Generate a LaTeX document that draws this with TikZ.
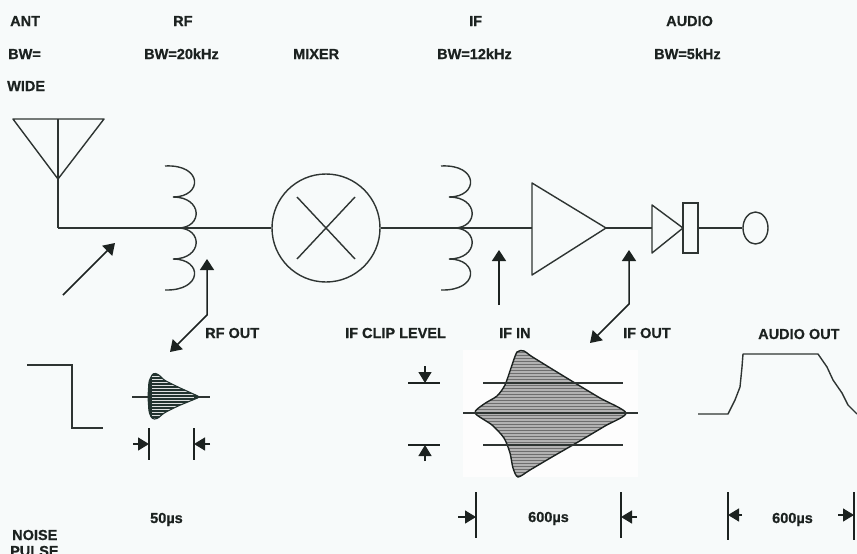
\documentclass[tikz,border=0pt]{standalone}
\usepackage{fontspec}
\setmainfont{Liberation Sans}
\newfontfamily\lblfont{Liberation Sans Bold}[FakeBold=0.6]
\usetikzlibrary{arrows.meta,shapes.geometric}
\definecolor{bg}{HTML}{F7FAFA}
\definecolor{ink}{HTML}{2E3432}
\definecolor{tx}{HTML}{1C2220}
\definecolor{dk}{HTML}{22332F}
\definecolor{gfill}{HTML}{B2B2B2}
\definecolor{ghatch}{HTML}{6E6E6E}
\begin{document}
\begin{tikzpicture}[x=1pt,y=-1pt,
  wire/.style={draw=ink,line width=1.4pt},
  ptr/.style={draw=tx,line width=1.5pt,-{Triangle[length=11pt,width=14pt]}},
  dimtip/.style={draw=tx,line width=1.3pt,-{Triangle[length=11pt,width=13pt]}},
  dimline/.style={draw=tx,line width=1.5pt},
  lbl/.style={font=\lblfont\fontsize{14.5}{16}\selectfont,text=tx,inner sep=0pt,anchor=base west}]
\fill[bg] (0,0) rectangle (857,554);
\useasboundingbox (0,0) rectangle (857,554);

% ---------- top labels ----------
\node[lbl] (ant)   at (10,26)  {ANT};
\node[lbl] (rf)    at (173,26) {RF};
\node[lbl] (if)    at (469,26) {IF};
\node[lbl] (aud)   at (666,26) {AUDIO};
\node[lbl] (bw0)   at (8,59)   {BW=};
\node[lbl] (bw1)   at (144,59) {BW=20kHz};
\node[lbl] (mixl)  at (293,59) {MIXER};
\node[lbl] (bw2)   at (437,59) {BW=12kHz};
\node[lbl] (bw3)   at (654,59) {BW=5kHz};
\node[lbl] (wide)  at (7,91)   {WIDE};

% ---------- antenna ----------
\coordinate (antL) at (13,119);
\coordinate (antR) at (104,119);
\coordinate (antTop) at (58,119);
\coordinate (antApex) at (58,179);
\coordinate (antFoot) at (58,228);
\draw[wire,line join=round] (antL) -- (antR) -- (antApex) -- cycle;
\draw[wire] (antTop) -- (antFoot);

% ---------- coils ----------
\coordinate (rfJ) at (178,228);
\coordinate (ifJ) at (454,228);
\foreach \dx in {0,276}{
  \begin{scope}[xshift=\dx]
  \draw[wire] (165,166) .. controls (203,164) and (203,197) .. (173,197)
     .. controls (203,197) and (203,228) .. (178,228)
     .. controls (203,228) and (203,259) .. (173,259)
     .. controls (203,259) and (203,291) .. (165,290);
  \end{scope}
}

% ---------- mixer ----------
\node[circle,draw=ink,line width=1.4pt,minimum size=108pt,inner sep=0pt] (mix) at (326,228) {};
\draw[wire] ([shift={(-29,-31)}]mix.center) -- ([shift={(29,31)}]mix.center);
\draw[wire] ([shift={(29,-31)}]mix.center) -- ([shift={(-29,31)}]mix.center);

% ---------- amplifier, detector, output ----------
\coordinate (ampIn) at (532,228);
\coordinate (ampT) at (532,183);
\coordinate (ampB) at (532,275);
\coordinate (ampOut) at (606,228);
\draw[wire,line join=round] (ampT) -- (ampOut) -- (ampB) -- cycle;
\coordinate (dIn) at (652,228);
\coordinate (dT) at (652,205);
\coordinate (dB) at (652,253);
\coordinate (dOut) at (683,228);
\draw[wire,line join=round] (dT) -- (dOut) -- (dB) -- cycle;
\node[rectangle,draw=ink,line width=1.4pt,minimum width=15pt,minimum height=50pt,inner sep=0pt] (bar) at (690.5,228) {};
\node[ellipse,draw=ink,line width=1.4pt,minimum width=25pt,minimum height=32pt,inner sep=0pt] (spk) at (755.5,228) {};

% ---------- wires ----------
\draw[wire] (antFoot) -- (rfJ) -- (mix.west);
\draw[wire] (mix.east) -- (ifJ) -- (ampIn);
\draw[wire] (ampOut) -- (dIn);
\draw[wire] (bar.east) -- (spk.west);

% ---------- pointer arrows ----------
\coordinate (inA) at (63,295);
\coordinate (inB) at (115,243);
\draw[ptr] (inA) -- (inB);

\coordinate (rfoTip) at (207,259);
\coordinate (rfoK) at (207,315);
\coordinate (rfoEnd) at (170,352);
\draw[draw=tx,line width=1.5pt,{Triangle[length=11pt,width=14pt]}-{Triangle[length=11pt,width=14pt]}] (rfoEnd) -- (rfoK) -- (rfoTip);

\coordinate (ifiA) at (499,305);
\coordinate (ifiB) at (499,250);
\draw[ptr] (ifiA) -- (ifiB);

\coordinate (ifoTip) at (629,250);
\coordinate (ifoK) at (629,304);
\coordinate (ifoEnd) at (590,343);
\draw[draw=tx,line width=1.5pt,{Triangle[length=11pt,width=14pt]}-{Triangle[length=11pt,width=14pt]}] (ifoEnd) -- (ifoK) -- (ifoTip);

% ---------- lower labels ----------
\node[lbl] (rfout) at (205,338) {RF OUT};
\node[lbl] (clip)  at (345,338) {IF CLIP LEVEL};
\node[lbl] (ifin)  at (499,338) {IF IN};
\node[lbl] (ifout) at (623,338) {IF OUT};
\node[lbl] (audout) at (758,339) {AUDIO OUT};

% ---------- noise pulse ----------
\draw[wire,line join=miter] (27,365) -- (72,365) -- (72,428) -- (103,428);

% ---------- RF out burst ----------
\draw[wire] (132,397) -- (210,397);
\def\rfshape{[rounded corners=2.5pt] (148,397) -- (149,381) -- (153,373) -- (158,374) -- (164,380) -- (178,387) -- (200,397) -- (178,406) -- (164,413) -- (157,419) -- (152,419) -- (149,412) -- cycle}
\fill[dk] \rfshape;
\begin{scope}
  \clip \rfshape;
  \foreach \y in {376,379,...,418} \draw[white!85!dk,line width=0.8pt] (152,\y) -- (194,\y);
\end{scope}
\draw[dk,line width=1.1pt,line join=round] \rfshape;

\draw[dimline] (149,428) -- (149,460);
\draw[dimline] (194,428) -- (194,460);
\draw[dimtip] (133,444) -- (149,444);
\draw[dimtip] (210,444) -- (194,444);
\node[lbl] (t50) at (150,523) {50µs};

% ---------- IF clip level marks ----------
\draw[dimline] (408,383) -- (440,383);
\draw[dimtip] (425,366) -- (425,383);
\draw[dimline] (408,445) -- (440,445);
\draw[dimtip] (425,461) -- (425,445);

% ---------- IF in envelope ----------
\fill[white!70!bg] (463,350) rectangle (638,477);
\def\ifshape{plot[smooth cycle,tension=0.45] coordinates {(475,413) (484,404) (497,396) (505,385) (511,368) (517,352) (524,351) (531,356) (552,369) (575,383) (600,398) (626,413) (605,426) (578,442) (552,457) (530,470) (518,477) (513,468) (510,453) (504,438) (492,425)}}
\fill[gfill] \ifshape;
\begin{scope}
  \clip \ifshape;
  \foreach \y in {352,355,...,477} \draw[ghatch,line width=0.6pt] (470,\y) -- (630,\y);
\end{scope}
\draw[tx,line width=1.4pt,line join=round] \ifshape;
\draw[draw=ink,line width=1.3pt] (483,383) -- (623,383);
\draw[draw=ink,line width=1.3pt] (463,413) -- (638,413);
\draw[draw=ink,line width=1.3pt] (483,445) -- (623,445);

\draw[dimline] (476,492) -- (476,538);
\draw[dimline] (621,492) -- (621,538);
\draw[dimtip] (458,517) -- (476,517);
\draw[dimtip] (637,517) -- (621,517);
\node[lbl] (t600a) at (528,522) {600µs};

% ---------- audio out ----------
\draw[wire,line join=round] (698,414) -- (728,414) -- (735,400) -- (740,387) -- (742,367) -- (743,354) -- (818,354) -- (827,367) -- (833,380) -- (842,393) -- (848,405) -- (857,414);
\draw[dimline] (728,492) -- (728,540);
\draw[dimline] (854,492) -- (854,540);
\draw[dimtip] (742,515) -- (728,515);
\draw[dimtip] (838,515) -- (854,515);
\node[lbl] (t600b) at (772,523) {600µs};

% ---------- noise pulse label ----------
\node[lbl] (noise) at (12,540) {NOISE};
\node[lbl] (pulse) at (10,556) {PULSE};
\end{tikzpicture}
\end{document}
